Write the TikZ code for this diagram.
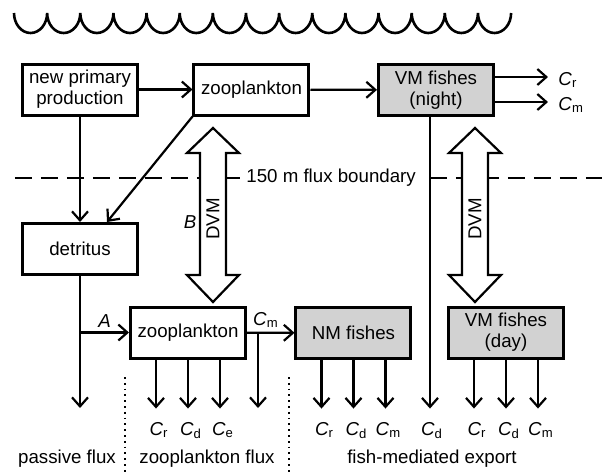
\documentclass[tikz,border=0pt]{standalone}
\usepackage{fontspec}
\setmainfont{Liberation Sans}
\usetikzlibrary{arrows.meta,positioning,calc}
\newcommand{\cflux}[1]{\textit{C}\textsubscript{#1}}

\begin{document}
\begin{tikzpicture}[x=0.5pt, y=-0.5pt, font=\fontsize{9.35}{10.5}\selectfont,
    box/.style={draw, line width=1.5pt, align=center, inner sep=0pt, minimum width=57.5pt, minimum height=25.5pt},
    fish/.style={box, fill=gray!35},
    flow/.style={line width=1.1pt, -{Straight Barb[length=4.5pt,width=8pt]}},
    dvm/.style={draw, line width=1.1pt, fill=white, line join=miter},
    bline/.style={line width=1.1pt, dash pattern=on 8.5pt off 4.5pt},
    flux/.style={anchor=base, inner xsep=0pt, inner ysep=6.5pt}]
        \useasboundingbox (0,0) rectangle (602,472);

        \draw[line width=1.3pt] (14,13) foreach \i in {1,...,15} {arc[start angle=180, end angle=0, x radius=16.57, y radius=20]};

        \draw[bline] (15,178) -- (241,178);
        \draw[bline] (430,178) -- (602,178);
        \node[anchor=west, inner sep=0pt] (bnd) at (246,178) {150 m flux boundary};

        \node[box] (npp) at (80,89.5) {new primary\\production};
        \node[box] (zt) at (251.5,89.5) {zooplankton};
        \node[fish] (vmn) at (436,90) {VM fishes\\(night)};
        \node[box] (det) at (80,249) {detritus};
        \node[box] (zb) at (188,332.5) {zooplankton};
        \node[fish] (nmf) at (353.5,333) {NM fishes};
        \node[fish] (vmd) at (506,332.5) {VM fishes\\(day)};

        \foreach \x in {213,475}{
          \draw[dvm] (\x-13,153) -- (\x-26,153) -- (\x,128) -- (\x+26,153) -- (\x+13,153) -- (\x+13,275) -- (\x+26,275) -- (\x,302) -- (\x-26,275) -- (\x-13,275) -- cycle;
          \node[rotate=90] (dvm\x) at (\x,219) {DVM};
        }
        \node (lblb) at (190,222) {\textit{B}};

        \draw[flow] (npp) -- (zt);
        \draw[flow] (zt) -- (vmn);
        \draw[flow] (npp) -- (det);
        \draw[flow] (zt.south west) -- ([xshift=13.5pt]det.north);

        \node[anchor=base west, inner sep=0pt] (vcr) at (558,85) {\cflux{r}};
        \node[anchor=base west, inner sep=0pt] (vcm) at (558,110) {\cflux{m}};
        \draw[flow, shorten >=5pt] ([yshift=6.5pt]vmn.east) -- ([yshift=6.5pt]vmn.east -| vcr.west);
        \draw[flow, shorten >=5pt] ([yshift=-6pt]vmn.east) -- ([yshift=-6pt]vmn.east -| vcm.west);

        \coordinate (pend) at (80,408);
        \draw[flow] (det) -- (pend);
        \draw[flow] (pend |- zb.west) -- (zb.west) node[midway, above, inner sep=2pt] {\textit{A}};

        \coordinate (zend) at (258,408);
        \draw[flow] (zb) -- (nmf) node[pos=0.4, above, inner sep=2pt] {\cflux{m}};
        \draw[flow] (zend |- zb.east) -- (zend);

        \node[flux] (vcd) at (432,435) {\cflux{d}};
        \draw[flow] ([xshift=-3pt]vmn.south) -- ([xshift=-3pt]vmn.south |- vcd.north);

        \foreach \b/\sa/\sb/\sc in {zb/r/d/e, nmf/r/d/m, vmd/r/d/m}{
          \foreach \s/\dx [count=\i] in {\sa/-16pt, \sb/0pt, \sc/16pt}{
            \node[flux] (\b-\i) at ([xshift=\dx+1.5pt]\b.south |- 0,435) {\cflux{\s}};
            \draw[flow] ([xshift=\dx]\b.south) -- ([xshift=\dx]\b.south |- \b-\i.north);
          }
        }

        \draw[line width=0.9pt, dotted] (125,377) -- (125,472);
        \draw[line width=0.9pt, dotted] (289,377) -- (289,472);

        \node[anchor=base] (pflux) at (67,463) {passive flux};
        \node[anchor=base] (zflux) at (207,463) {zooplankton flux};
        \node[anchor=base] (fflux) at (432,463) {fish-mediated export};
      \end{tikzpicture}
\end{document}
